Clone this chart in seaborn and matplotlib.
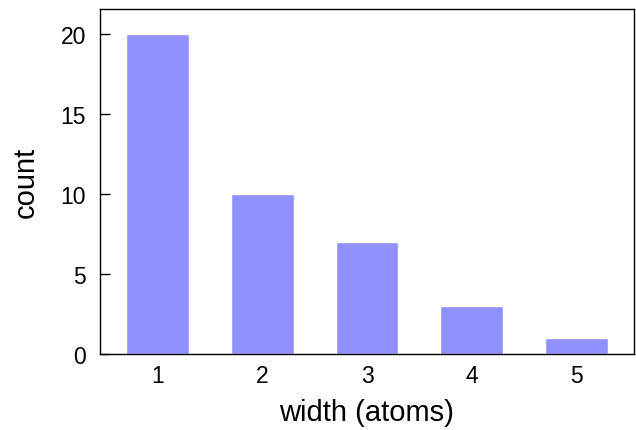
import seaborn as sns
import matplotlib.pyplot as plt
import pandas as pd

widths = [1, 2, 3, 4, 5]
counts = [20, 10, 7, 3, 1]

df = pd.DataFrame({"width": widths, "count": counts})

sns.set_style("ticks")
plt.rcParams["font.family"] = ["Liberation Sans", "DejaVu Sans"]
plt.rcParams["text.color"] = "black"
plt.rcParams["axes.labelcolor"] = "black"
plt.rcParams["xtick.color"] = "black"
plt.rcParams["ytick.color"] = "black"

fig = plt.figure(figsize=(6.36, 4.31), dpi=100)
ax = fig.add_axes([0.157, 0.176, 0.84, 0.801])

sns.barplot(data=df, x="width", y="count", color="#9090ff", saturation=1,
            width=0.6, errorbar=None, ax=ax)

ax.set_xlim(-0.55, 4.55)
ax.set_ylim(0, 21.6)
ax.set_yticks([0, 5, 10, 15, 20])

for s in ax.spines.values():
    s.set_visible(True)
    s.set_linewidth(1.0)
    s.set_color("black")

ax.tick_params(axis="y", direction="in", length=7, width=1, labelsize=16.5, pad=10)
ax.tick_params(axis="x", length=0, labelsize=16.5, pad=7)

ax.set_xlabel("width (atoms)", fontsize=21, labelpad=8)
ax.set_ylabel("count", fontsize=21, labelpad=15)

fig.savefig("out.png", dpi=100)
